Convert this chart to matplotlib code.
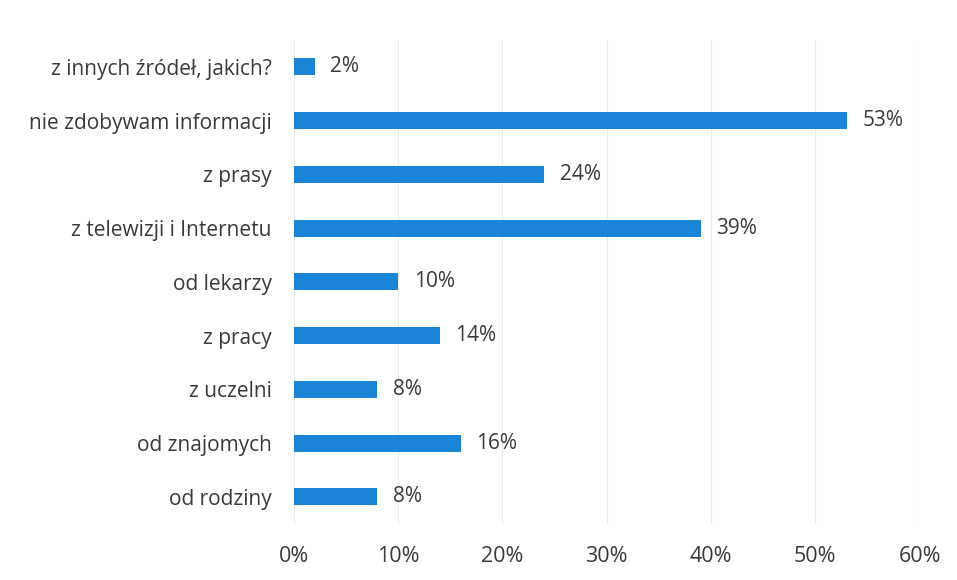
import matplotlib.pyplot as plt
from matplotlib.ticker import FuncFormatter

# categories listed bottom to top (as drawn by barh)
categories = ['od rodziny', 'od znajomych', 'z uczelni', 'z pracy', 'od lekarzy',
              'z telewizji i Internetu', 'z prasy', 'nie zdobywam informacji',
              'z innych źródeł, jakich?']
values = [8, 16, 8, 14, 10, 39, 24, 53, 2]
x_ticks = [0, 10, 20, 30, 40, 50, 60]

bar_color = '#1a84d6'
text_color = '#3a3a3a'

plt.rcParams['font.family'] = ['Open Sans', 'DejaVu Sans']

fig = plt.figure(figsize=(9.57, 5.8), dpi=100)
ax = fig.add_axes([0.307, 0.097, 0.654, 0.834])

y_pos = range(len(categories))
ax.barh(y_pos, values, height=0.32, color=bar_color, zorder=3)

# value labels to the right of each bar
for y, v in zip(y_pos, values):
    ax.text(v + 1.5, y, f'{v}%', va='center', ha='left',
            fontsize=15, color=text_color, zorder=4)

ax.set_xlim(0, 60)
ax.set_ylim(-0.5, len(categories) - 0.5)
ax.set_xticks(x_ticks)
ax.xaxis.set_major_formatter(FuncFormatter(lambda x, _: f'{x:.0f}%'))
ax.set_yticks(list(y_pos))
ax.set_yticklabels(categories)

ax.tick_params(axis='x', length=0, pad=16, labelsize=15.5, labelcolor=text_color)
ax.tick_params(axis='y', length=0, pad=16, labelsize=15, labelcolor=text_color)

ax.grid(axis='x', color='#ececec', linewidth=0.8, zorder=0)
for spine in ax.spines.values():
    spine.set_visible(False)

fig.savefig('out.png', dpi=100, facecolor='white')
